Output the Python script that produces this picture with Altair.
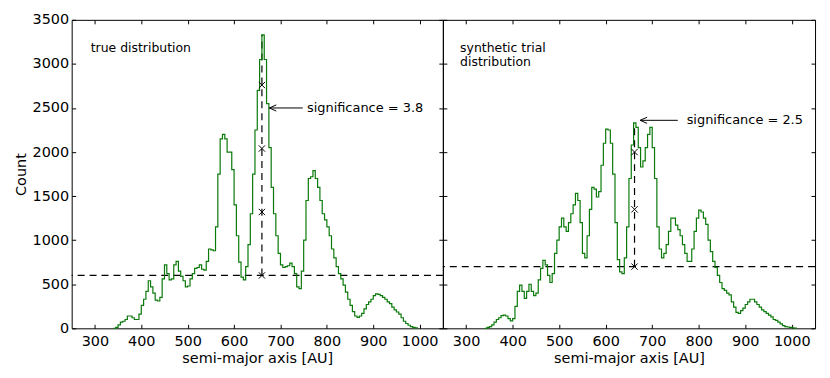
import altair as alt
import pandas as pd

FONT = "DejaVu Sans"
GREEN = "#0a7a0a"

# ---------------- data ----------------
BIN_WIDTH = 5
true_start = 340
true_counts = [
    0, 10, 40, 70, 80, 100, 140, 140, 120, 100,
    100, 160, 260, 330, 420, 540, 470, 400, 320, 310,
    350, 560, 720, 620, 550, 560, 720, 760, 650, 590,
    540, 470, 480, 560, 620, 680, 690, 720, 670, 660,
    760, 900, 890, 880, 1150, 1750, 2150, 2200, 2150, 2000,
    2000, 1800, 1400, 1050, 750, 580, 550, 700, 950, 1300,
    1750, 2250, 2700, 3050, 3330, 3050, 2550, 2050, 1600, 1300,
    1050, 850, 720, 690, 700, 710, 740, 700, 620, 470,
    450, 650, 1000, 1450, 1700, 1720, 1790, 1700, 1600, 1450,
    1300, 1230, 1150, 1050, 900, 800, 700, 620, 560, 490,
    410, 330, 260, 190, 140, 125, 140, 170, 220, 270,
    300, 330, 370, 390, 385, 370, 350, 330, 300, 280,
    240, 210, 185, 160, 120, 80, 55, 35, 20, 10,
    5, 0,
]
synth_start = 340
synth_counts = [
    0, 10, 20, 40, 70, 100, 120, 145, 150, 140,
    110, 85, 110, 250, 420, 490, 420, 340, 420, 500,
    420, 370, 400, 550, 680, 770, 720, 600, 520, 620,
    850, 1000, 1150, 1250, 1150, 1100, 1200, 1300, 1400, 1530,
    1450, 1200, 850, 800, 1050, 1350, 1600, 1580, 1490, 1550,
    1850, 2100, 2260, 2250, 2100, 1750, 1200, 780, 640, 620,
    800, 1150, 1700, 2080, 2330, 2280, 2050, 1830, 1900, 2050,
    2200, 2280, 2050, 1700, 1150, 900, 800, 850, 950, 1100,
    1250, 1250, 1170, 1120, 1050, 950, 850, 760, 760, 900,
    1100, 1250, 1340, 1320, 1250, 1180, 1000, 870, 760, 690,
    600, 520, 450, 430, 400, 380, 300, 240, 180, 170,
    200, 230, 270, 300, 330, 330, 300, 270, 240, 210,
    190, 170, 150, 130, 100, 90, 70, 50, 30, 20,
    15, 10, 5, 3, 0,
]

X_TICKS = [300, 400, 500, 600, 700, 800, 900, 1000]
Y_TICKS = [0, 500, 1000, 1500, 2000, 2500, 3000, 3500]
X_DOMAIN = [250, 1050]
Y_DOMAIN = [0, 3500]

panels = [
    dict(
        start=true_start, counts=true_counts,
        label=["true distribution"], label_x=291, label_y=[3184],
        threshold=600, peak_x=660, peak_top=3330,
        marks=[600, 1320, 2040, 2760],
        sig_text="significance = 3.8", arrow_tip=676, arrow_tail=748,
        arrow_y=2500, text_x=757,
        show_labels=True,
    ),
    dict(
        start=synth_start, counts=synth_counts,
        label=["synthetic trial", "distribution"], label_x=287,
        label_y=[3184, 3026],
        threshold=700, peak_x=662, peak_top=2330,
        marks=[700, 1350, 2000],
        sig_text="significance = 2.5", arrow_tip=674, arrow_tail=755,
        arrow_y=2360, text_x=774,
        show_labels=False,
    ),
]

xs = alt.Scale(domain=X_DOMAIN, nice=False, zero=False)
ys = alt.Scale(domain=Y_DOMAIN, nice=False, zero=False)

common_axis = dict(
    domain=False, grid=False, tickSize=4, offset=-4, tickColor="black",
    tickWidth=1, labelFont=FONT, titleFont=FONT, labelFontSize=14.5,
    titleFontSize=14.5, titleFontWeight="normal", labelColor="black",
    titleColor="black", labelFlush=False, labelOverlap=False, format="d",
)

X_PATH = "M-1,-1L1,1M-1,1L1,-1"
ARROW_PATH = "M1.6,-0.7L0,0L1.6,0.7"


def make_panel(p, width):
    n = len(p["counts"])
    df = pd.DataFrame({
        "a": [p["start"] + i * BIN_WIDTH for i in range(n)],
        "count": p["counts"],
    })
    bottom = alt.Axis(orient="bottom", values=X_TICKS,
                      title="semi-major axis [AU]", labelPadding=6,
                      titlePadding=4, **common_axis)
    if p["show_labels"]:
        left = alt.Axis(orient="left", values=Y_TICKS, title="Count",
                        labelPadding=3, titlePadding=4, **common_axis)
    else:
        left = alt.Axis(orient="left", values=Y_TICKS, title=None,
                        labels=False, **common_axis)
    top = alt.Axis(orient="top", values=X_TICKS, title=None, labels=False,
                   **common_axis)
    right = alt.Axis(orient="right", values=Y_TICKS, title=None,
                     labels=False, **common_axis)

    line = alt.Chart(df).mark_line(
        interpolate="step-after", color=GREEN, strokeWidth=1.2
    ).encode(
        x=alt.X("a:Q", scale=xs, axis=bottom),
        y=alt.Y("count:Q", scale=ys, axis=left),
    )
    ghost = alt.Chart(df).mark_line(opacity=0).encode(
        x=alt.X("a:Q", scale=xs, axis=top),
        y=alt.Y("count:Q", scale=ys, axis=right),
    )
    hline = alt.Chart(pd.DataFrame({"t": [p["threshold"]]})).mark_rule(
        color="black", strokeDash=[7, 5], strokeWidth=1.2
    ).encode(y=alt.Y("t:Q", scale=ys, axis=None))

    vline = alt.Chart(pd.DataFrame({
        "x": [p["peak_x"]], "y0": [p["threshold"]], "y1": [p["peak_top"]]
    })).mark_rule(color="black", strokeDash=[7, 5], strokeWidth=1.2).encode(
        x=alt.X("x:Q", scale=xs, axis=None),
        y=alt.Y("y0:Q", scale=ys, axis=None),
        y2="y1:Q",
    )
    marks = alt.Chart(pd.DataFrame({
        "x": [p["peak_x"]] * len(p["marks"]), "y": p["marks"]
    })).mark_point(shape=X_PATH, size=40, filled=False, color="black",
                   strokeWidth=1, opacity=1).encode(
        x=alt.X("x:Q", scale=xs, axis=None),
        y=alt.Y("y:Q", scale=ys, axis=None),
    )
    arrow = alt.Chart(pd.DataFrame({
        "x0": [p["arrow_tip"]], "x1": [p["arrow_tail"]], "y": [p["arrow_y"]]
    })).mark_rule(color="black", strokeWidth=1).encode(
        x=alt.X("x0:Q", scale=xs, axis=None),
        x2="x1:Q",
        y=alt.Y("y:Q", scale=ys, axis=None),
    )
    head = alt.Chart(pd.DataFrame({
        "x": [p["arrow_tip"]], "y": [p["arrow_y"]]
    })).mark_point(shape=ARROW_PATH, size=77, filled=False, color="black",
                   strokeWidth=1, opacity=1).encode(
        x=alt.X("x:Q", scale=xs, axis=None),
        y=alt.Y("y:Q", scale=ys, axis=None),
    )
    sig = alt.Chart(pd.DataFrame({
        "x": [p["text_x"]], "y": [p["arrow_y"]], "t": [p["sig_text"]]
    })).mark_text(align="left", baseline="middle", font=FONT, fontSize=13,
                  color="black").encode(
        x=alt.X("x:Q", scale=xs, axis=None),
        y=alt.Y("y:Q", scale=ys, axis=None),
        text="t:N",
    )
    lab = alt.Chart(pd.DataFrame({
        "x": [p["label_x"]] * len(p["label"]), "y": p["label_y"],
        "t": p["label"]
    })).mark_text(align="left", baseline="middle", font=FONT, fontSize=12.5,
                  color="black").encode(
        x=alt.X("x:Q", scale=xs, axis=None),
        y=alt.Y("y:Q", scale=ys, axis=None),
        text="t:N",
    )
    return alt.layer(
        ghost, hline, vline, line, marks, arrow, head, sig, lab
    ).resolve_axis(x="independent", y="independent").properties(
        width=width, height=310
    )


left_panel = make_panel(panels[0], 373)
right_panel = make_panel(panels[1], 374)

chart = alt.hconcat(left_panel, right_panel, spacing=0, bounds="flush").configure_view(
    stroke="black", strokeWidth=1
).properties(padding={"left": 4, "top": 2, "right": 5, "bottom": 5})

chart.save("out.html", embed_options={"renderer": "svg", "actions": False})
